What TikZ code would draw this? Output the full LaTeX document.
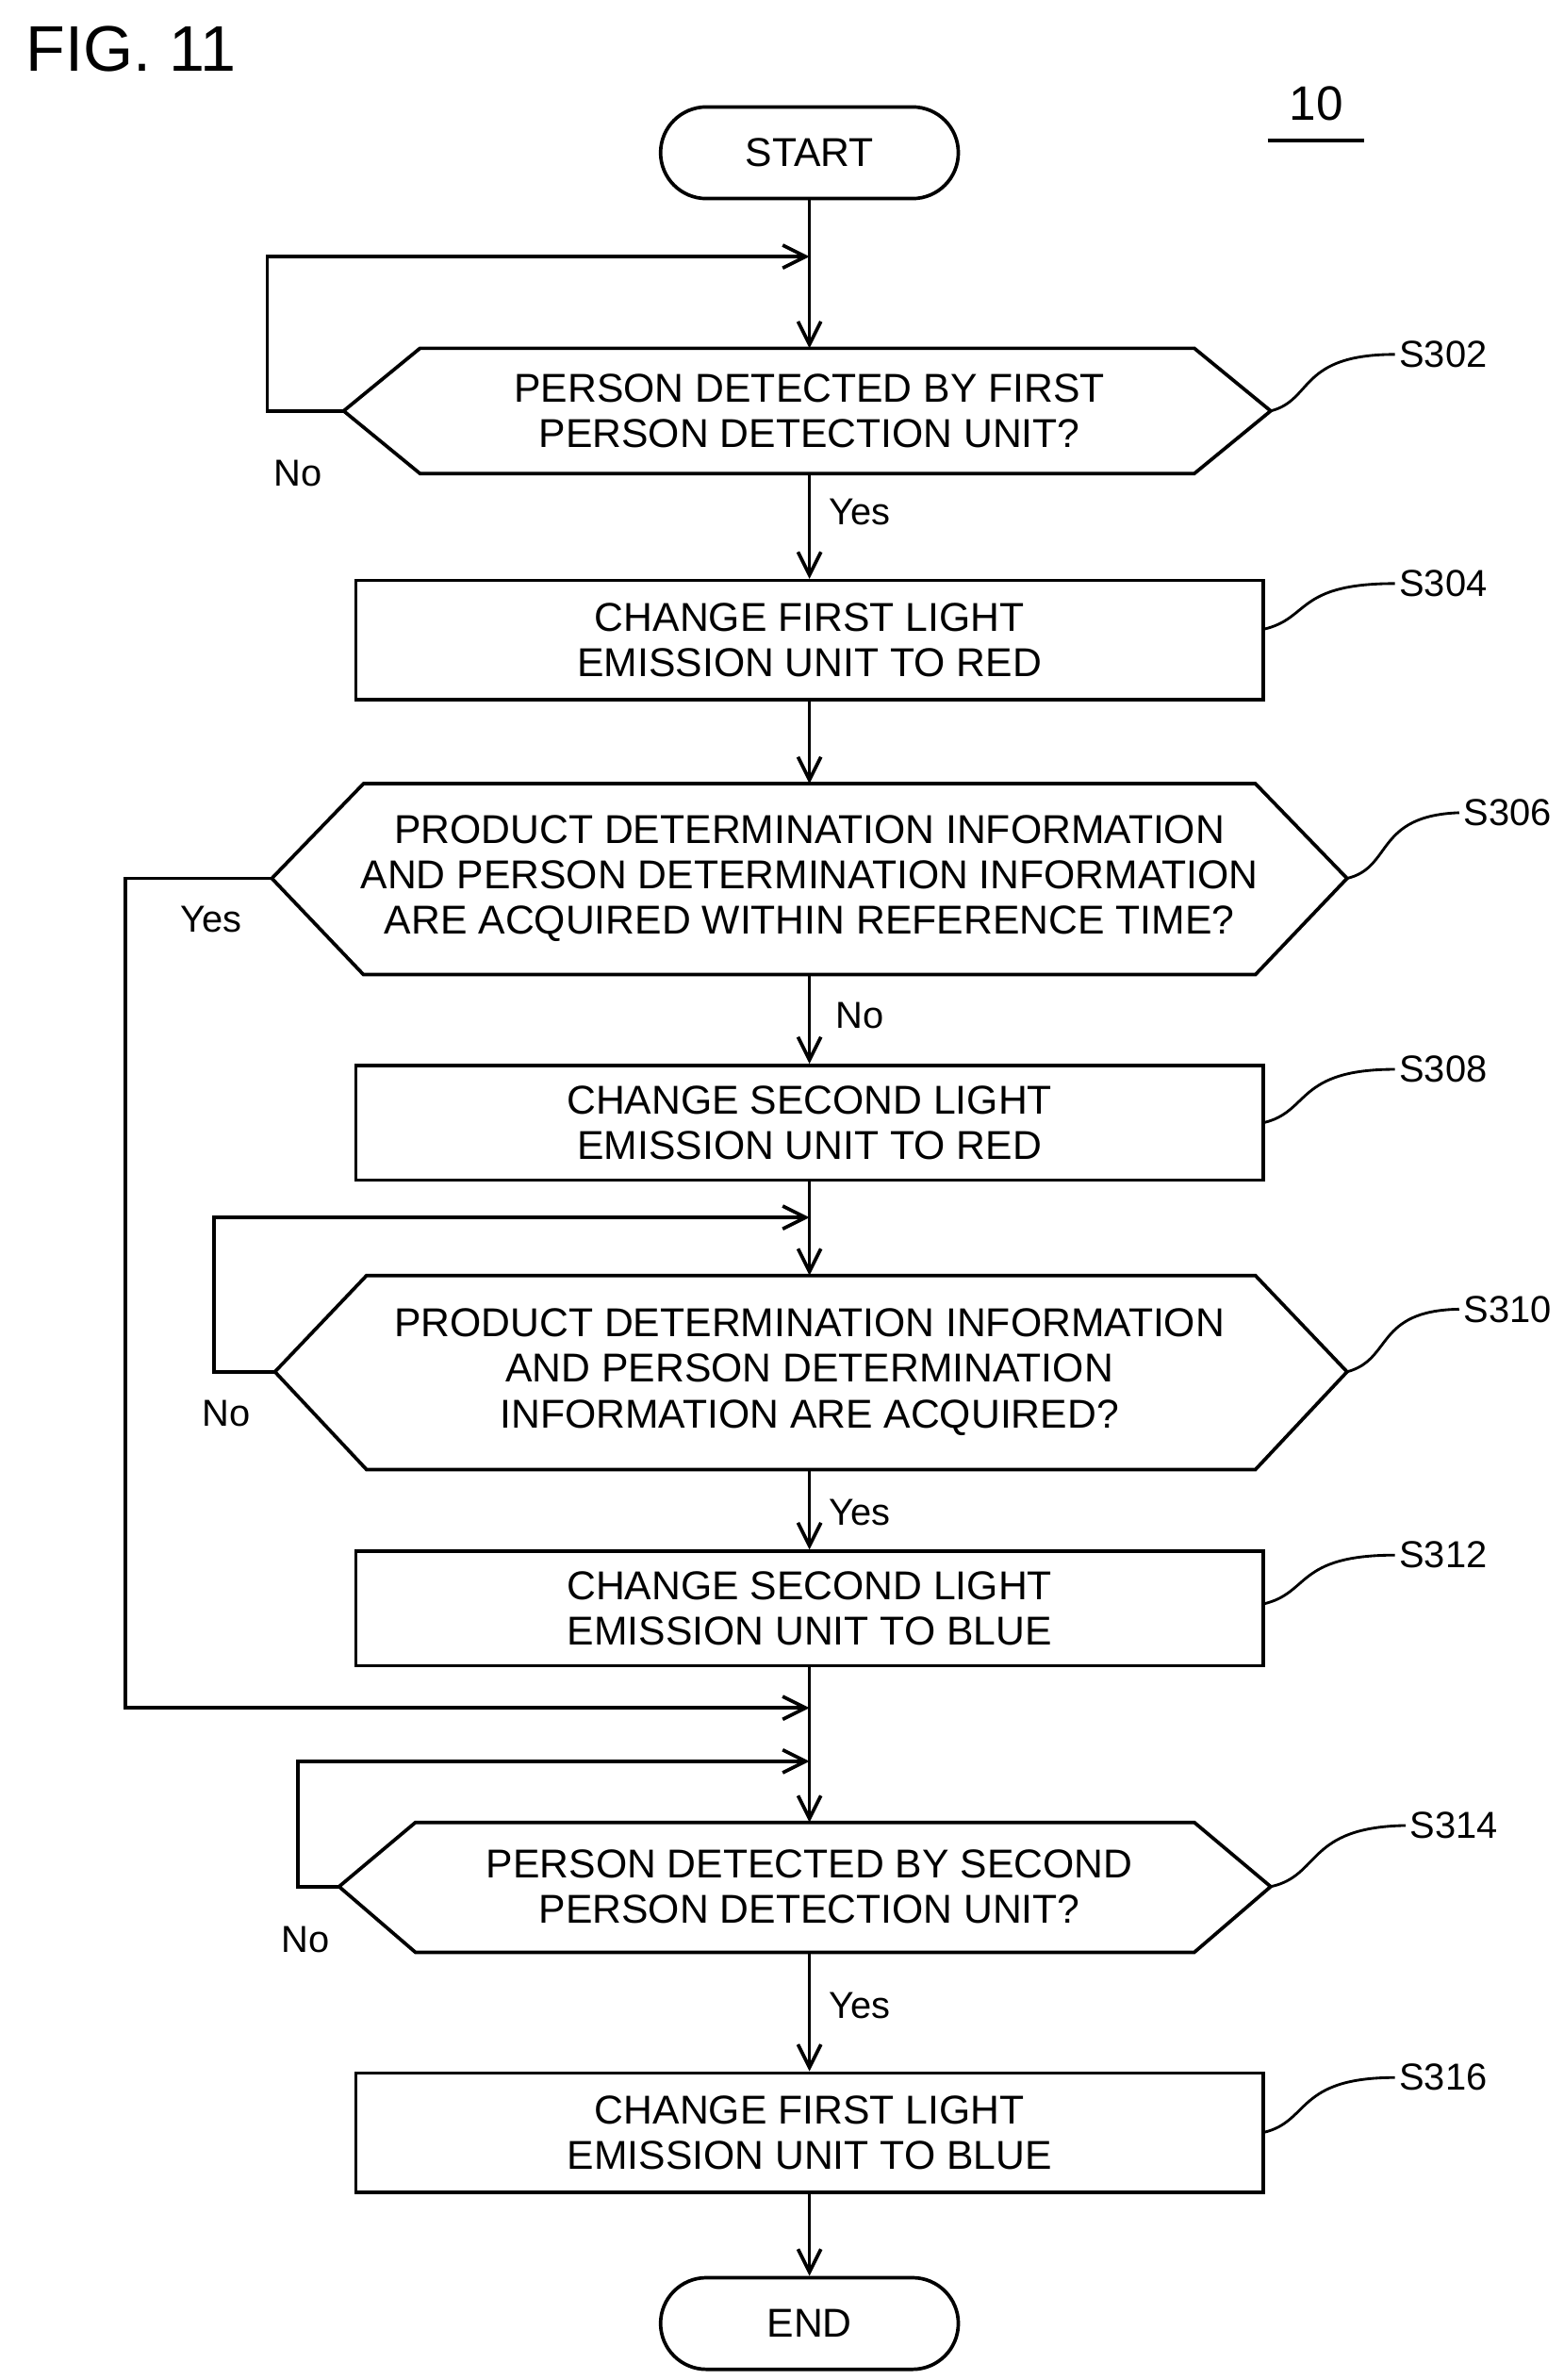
\documentclass[tikz,border=0pt]{standalone}
\usepackage{fontspec}
\setmainfont{Liberation Sans}
\usetikzlibrary{arrows.meta}
\begin{document}
\begin{tikzpicture}[x=0.02cm,y=-0.02cm,
  line width=1.3pt,
  txt/.style={font=\fontsize{15}{17}\selectfont, align=center, inner sep=0pt},
  lbl/.style={font=\fontsize{14}{16}\selectfont, inner sep=1pt},
  box/.style={draw, minimum width=11.88cm, inner sep=0pt, font=\fontsize{15}{17}\selectfont, align=center},
  term/.style={draw, rounded corners=0.6cm, minimum width=3.9cm, minimum height=1.2cm, font=\fontsize{15}{17}\selectfont},
  arr/.style={-{Straight Barb[length=3mm,width=3mm]}},
  sq/.style={line width=1pt}]
\useasboundingbox (0,0) rectangle (1024,1558);
\node[anchor=west, font=\fontsize{24}{26}\selectfont] (fig) at (10,32) {FIG. 11};
\node[font=\fontsize{18}{20}\selectfont] (ten) at (862,68) {10};
\draw (830,92) -- (893,92);
% nodes
\node[term] (start) at (530,100) {START};
\draw (225,269) -- (275,228) -- (782,228) -- (832,269) -- (782,310) -- (275,310) -- cycle;
\node[txt] (s302) at (530,269) {PERSON DETECTED BY FIRST\\PERSON DETECTION UNIT?};
\node[box, minimum height=1.56cm] (s304) at (530,419) {CHANGE FIRST LIGHT\\EMISSION UNIT TO RED};
\draw (178,575) -- (238,513) -- (822,513) -- (882,575) -- (822,638) -- (238,638) -- cycle;
\node[txt] (s306) at (530,575) {PRODUCT DETERMINATION INFORMATION\\AND PERSON DETERMINATION INFORMATION\\ARE ACQUIRED WITHIN REFERENCE TIME?};
\node[box, minimum height=1.5cm] (s308) at (530,735) {CHANGE SECOND LIGHT\\EMISSION UNIT TO RED};
\draw (180,898) -- (240,835) -- (822,835) -- (882,898) -- (822,962) -- (240,962) -- cycle;
\node[txt] (s310) at (530,898) {PRODUCT DETERMINATION INFORMATION\\AND PERSON DETERMINATION\\INFORMATION ARE ACQUIRED?};
\node[box, minimum height=1.5cm] (s312) at (530,1053) {CHANGE SECOND LIGHT\\EMISSION UNIT TO BLUE};
\draw (222,1235) -- (272,1193) -- (782,1193) -- (832,1235) -- (782,1278) -- (272,1278) -- cycle;
\node[txt] (s314) at (530,1235) {PERSON DETECTED BY SECOND\\PERSON DETECTION UNIT?};
\node[box, minimum height=1.56cm] (s316) at (530,1396) {CHANGE FIRST LIGHT\\EMISSION UNIT TO BLUE};
\node[term] (end) at (530,1521) {END};
% coordinates
\coordinate (t302) at (530,228); \coordinate (b302) at (530,310); \coordinate (l302) at (225,269);
\coordinate (t306) at (530,513); \coordinate (b306) at (530,638); \coordinate (l306) at (178,575);
\coordinate (t310) at (530,835); \coordinate (b310) at (530,962); \coordinate (l310) at (180,898);
\coordinate (t314) at (530,1193); \coordinate (b314) at (530,1278); \coordinate (l314) at (222,1235);
\coordinate (m1) at (530,168); \coordinate (m2) at (530,797); \coordinate (m3) at (530,1118); \coordinate (m4) at (530,1153);
% flow
\draw[arr] (start) -- (t302);
\draw[arr] (l302) -- (175,269) -- (175,168) -- (m1);
\draw[arr] (b302) -- (s304);
\draw[arr] (s304) -- (t306);
\draw[arr] (b306) -- (s308);
\draw[arr] (s308) -- (t310);
\draw[arr] (l310) -- (140,898) -- (140,797) -- (m2);
\draw[arr] (b310) -- (s312);
\draw (s312) -- (m3);
\draw[arr] (l306) -- (82,575) -- (82,1118) -- (m3);
\draw[arr] (m3) -- (t314);
\draw[arr] (l314) -- (195,1235) -- (195,1153) -- (m4);
\draw[arr] (b314) -- (s316);
\draw[arr] (s316) -- (end);
% labels
\node[lbl] at (195,310) {No};
\node[lbl] at (563,335) {Yes};
\node[lbl] at (138,602) {Yes};
\node[lbl] at (563,665) {No};
\node[lbl] at (148,925) {No};
\node[lbl] at (563,990) {Yes};
\node[lbl] at (200,1270) {No};
\node[lbl] at (563,1313) {Yes};
% step labels
\node[lbl] (n302) at (945,232) {S302};
\node[lbl] (n304) at (945,382) {S304};
\node[lbl] (n306) at (987,532) {S306};
\node[lbl] (n308) at (945,700) {S308};
\node[lbl] (n310) at (987,857) {S310};
\node[lbl] (n312) at (945,1018) {S312};
\node[lbl] (n314) at (952,1195) {S314};
\node[lbl] (n316) at (945,1360) {S316};
\draw[sq] (832,269) .. controls (860,262) and (850,232) .. (n302.west);
\draw[sq] (827,412) .. controls (858,405) and (848,382) .. (n304.west);
\draw[sq] (882,575) .. controls (912,568) and (900,534) .. (n306.west);
\draw[sq] (827,735) .. controls (858,728) and (848,700) .. (n308.west);
\draw[sq] (882,898) .. controls (912,890) and (900,858) .. (n310.west);
\draw[sq] (827,1050) .. controls (858,1043) and (848,1018) .. (n312.west);
\draw[sq] (832,1235) .. controls (865,1228) and (855,1196) .. (n314.west);
\draw[sq] (827,1396) .. controls (858,1389) and (848,1360) .. (n316.west);
\end{tikzpicture}
\end{document}
